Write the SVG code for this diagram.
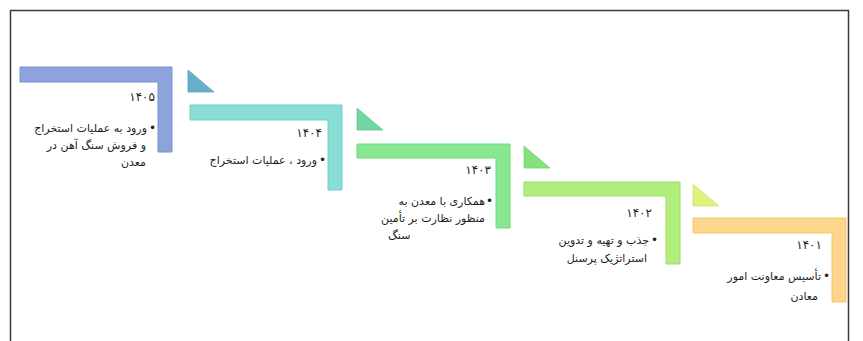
<svg xmlns="http://www.w3.org/2000/svg" width="863" height="341" viewBox="0 0 863 341">
  <style>
    .frame { fill: none; stroke: #3a3a3a; stroke-width: 1.5; }
    .step { stroke-width: 1; }
    .txt { font-family: "DejaVu Sans", "Noto Sans", sans-serif; font-size: 11px; fill: #1e1e1e; }
    .yr { font-size: 12px; letter-spacing: 1.5px; }
    .dot { font-size: 12px; }
  </style>
  <rect x="0" y="0" width="863" height="341" fill="#ffffff"/>
  <!-- page frame -->
  <path class="frame" d="M10.5 341 V10.5 H848.5 V341"/>

  <!-- connectors: wedge arrows between steps -->
  <g id="connectors">
    <polygon points="188,70 188,92 214,92" fill="#66aecb" stroke="#5a9fbe" stroke-width="0.8"/>
    <polygon points="357,108 357,130 383,130" fill="#70d6a4" stroke="#62c795" stroke-width="0.8"/>
    <polygon points="524,146 524,168 550,168" fill="#86e07e" stroke="#76d26e" stroke-width="0.8"/>
    <polygon points="693,184 693,206 719,206" fill="#def27c" stroke="#cfe56c" stroke-width="0.8"/>
  </g>

  <g id="step-1405">
    <path class="step" d="M20 67 H172 V152 H158 V82 H20 Z" fill="#8ea3db" stroke="#7a8fcc"/>
    <text class="txt yr" x="155" y="101" text-anchor="end">۱۴۰۵</text>
    <text class="txt dot" x="156" y="132" text-anchor="end">•</text>
    <text class="txt" x="147" y="132" text-anchor="end">ورود به عملیات استخراج</text>
    <text class="txt" x="146" y="149" text-anchor="end">و فروش سنگ آهن در</text>
    <text class="txt" x="146" y="166" text-anchor="end">معدن</text>
  </g>

  <g id="step-1404">
    <path class="step" d="M190 105 H342 V190 H328 V120 H190 Z" fill="#86ded5" stroke="#70cfc5"/>
    <text class="txt yr" x="322" y="137" text-anchor="end">۱۴۰۴</text>
    <text class="txt dot" x="326" y="164" text-anchor="end">•</text>
    <text class="txt" x="317" y="164" text-anchor="end">ورود ، عملیات استخراج</text>
  </g>

  <g id="step-1403">
    <path class="step" d="M357 144 H510 V228 H496 V158 H357 Z" fill="#86e892" stroke="#6fd97c"/>
    <text class="txt yr" x="491" y="174" text-anchor="end">۱۴۰۳</text>
    <text class="txt dot" x="493" y="205" text-anchor="end">•</text>
    <text class="txt" x="485" y="205" text-anchor="end">همکاری با معدن به</text>
    <text class="txt" x="485" y="222" text-anchor="end">منظور نظارت بر تأمین</text>
    <text class="txt" x="388" y="239" text-anchor="start">سنگ</text>
  </g>

  <g id="step-1402">
    <path class="step" d="M524 182 H680 V264 H666 V196 H524 Z" fill="#b2ee7e" stroke="#9bdf64"/>
    <text class="txt yr" x="652" y="217" text-anchor="end">۱۴۰۲</text>
    <text class="txt dot" x="658" y="244" text-anchor="end">•</text>
    <text class="txt" x="649" y="244" text-anchor="end">جذب و تهیه و تدوین</text>
    <text class="txt" x="647" y="262" text-anchor="end">استراتژیک پرسنل</text>
  </g>

  <g id="step-1401">
    <path class="step" d="M693 218 H846 V302 H832 V233 H693 Z" fill="#fdd68c" stroke="#f4c670"/>
    <text class="txt yr" x="822" y="249" text-anchor="end">۱۴۰۱</text>
    <text class="txt dot" x="830" y="280" text-anchor="end">•</text>
    <text class="txt" x="821" y="280" text-anchor="end">تأسیس معاونت امور</text>
    <text class="txt" x="818" y="300" text-anchor="end">معادن</text>
  </g>
</svg>
